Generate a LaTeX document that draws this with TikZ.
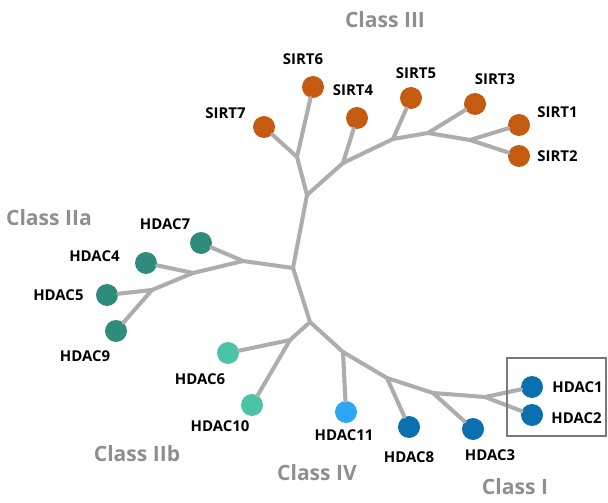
\documentclass[tikz,border=0pt]{standalone}
\usepackage{fontspec}
\setmainfont{Open Sans}
\usepackage{xcolor}
\usetikzlibrary{positioning}
\definecolor{sirtx}{HTML}{C55A11}
\definecolor{twoax}{HTML}{2F8C7C}
\definecolor{twobx}{HTML}{4CC3A7}
\definecolor{fourx}{HTML}{2DA6F5}
\definecolor{onex}{HTML}{0B6FB0}
\definecolor{branchx}{HTML}{ADADAD}
\definecolor{classx}{HTML}{8F8F8F}

\begin{document}
\begin{tikzpicture}[
  x=0.02cm, y=-0.02cm,
  leaf/.style={circle, minimum size=0.44cm, inner sep=0pt},
  lbl/.style={font=\fontsize{8.5}{10}\selectfont\bfseries, inner sep=1pt},
  cls/.style={font=\fontsize{12}{14}\selectfont\bfseries, text=classx},
  br/.style={draw=branchx, line width=2.3pt, line cap=round, line join=round},
]
\useasboundingbox (0,0) rectangle (608,503);

% junctions
\coordinate (r0)   at (293,268);
\coordinate (c3)   at (307,195);
\coordinate (j67)  at (297,157);
\coordinate (j4)   at (343,163);
\coordinate (j5)   at (393,139);
\coordinate (j3)   at (428,133);
\coordinate (j12)  at (470,140);
\coordinate (j7)   at (243,261);
\coordinate (j4a)  at (193,273);
\coordinate (j59)  at (152,290);
\coordinate (jlow) at (310,322);
\coordinate (j6)   at (290,340);
\coordinate (j11)  at (343,352);
\coordinate (j8)   at (387,378);
\coordinate (j3b)  at (433,393);
\coordinate (j12b) at (485,397);

% leaves
\node[leaf, fill=sirtx] (s6) at (313,87)  {};
\node[leaf, fill=sirtx] (s7) at (264,127) {};
\node[leaf, fill=sirtx] (s4) at (357,118) {};
\node[leaf, fill=sirtx] (s5) at (411,98)  {};
\node[leaf, fill=sirtx] (s3) at (475,104) {};
\node[leaf, fill=sirtx] (s1) at (519,125) {};
\node[leaf, fill=sirtx] (s2) at (519,156) {};
\node[leaf, fill=twoax] (h7) at (201,243) {};
\node[leaf, fill=twoax] (h4) at (146,263) {};
\node[leaf, fill=twoax] (h5) at (107,295) {};
\node[leaf, fill=twoax] (h9) at (116,331) {};
\node[leaf, fill=twobx] (h6) at (228,353) {};
\node[leaf, fill=twobx] (h10) at (252,405) {};
\node[leaf, fill=fourx] (h11) at (346,412) {};
\node[leaf, fill=onex] (h8) at (409,427) {};
\node[leaf, fill=onex] (h3) at (473,429) {};
\node[leaf, fill=onex] (h1) at (532,387) {};
\node[leaf, fill=onex] (h2) at (532,415) {};

% branches
\draw[br] (r0) -- (c3) -- (j67) -- (s7);
\draw[br] (j67) -- (s6);
\draw[br] (c3) -- (j4) -- (s4);
\draw[br] (j4) -- (j5) -- (s5);
\draw[br] (j5) -- (j3) -- (s3);
\draw[br] (j3) -- (j12) -- (s1);
\draw[br] (j12) -- (s2);
\draw[br] (r0) -- (j7) -- (h7);
\draw[br] (j7) -- (j4a) -- (h4);
\draw[br] (j4a) -- (j59) -- (h5);
\draw[br] (j59) -- (h9);
\draw[br] (r0) -- (jlow) -- (j6) -- (h6);
\draw[br] (j6) -- (h10);
\draw[br] (jlow) -- (j11) -- (h11);
\draw[br] (j11) -- (j8) -- (h8);
\draw[br] (j8) -- (j3b) -- (h3);
\draw[br] (j3b) -- (j12b) -- (h1);
\draw[br] (j12b) -- (h2);

% names
\node[lbl, above=0.18cm of s6, xshift=-0.2cm]  (s6l) {SIRT6};
\node[lbl, left=0.1cm of s7, yshift=0.28cm]    (s7l) {SIRT7};
\node[lbl, above=0.18cm of s4, xshift=-0.08cm] (s4l) {SIRT4};
\node[lbl, above=0.12cm of s5, xshift=0.1cm]   (s5l) {SIRT5};
\node[lbl, above=0.12cm of s3, xshift=0.4cm]   (s3l) {SIRT3};
\node[lbl, right=0.1cm of s1, yshift=0.26cm]   (s1l) {SIRT1};
\node[lbl, right=0.1cm of s2]                  (s2l) {SIRT2};
\node[lbl, above=0cm of h7, xshift=-0.72cm]    (h7l) {HDAC7};
\node[lbl, left=0.26cm of h4, yshift=0.14cm]   (h4l) {HDAC4};
\node[lbl, left=0.2cm of h5]                   (h5l) {HDAC5};
\node[lbl, below=0.12cm of h9, xshift=-0.62cm] (h9l) {HDAC9};
\node[lbl, below=0.14cm of h6, xshift=-0.56cm] (h6l) {HDAC6};
\node[lbl, below=0.04cm of h10, xshift=-0.64cm] (h10l) {HDAC10};
\node[lbl, below=0.08cm of h11, xshift=-0.04cm] (h11l) {HDAC11};
\node[lbl, below=0.22cm of h8]                 (h8l) {HDAC8};
\node[lbl, below=0.14cm of h3, xshift=0.34cm]  (h3l) {HDAC3};
\node[lbl, right=0.14cm of h1]                 (h1l) {HDAC1};
\node[lbl, right=0.12cm of h2, yshift=-0.06cm] (h2l) {HDAC2};

% class I box
\draw[classx!85!black, line width=1pt] (507,358) rectangle (606,436);

% classes
\node[cls] (c3l)  at (385,20)  {Class III};
\node[cls] (c2al) at (49,218)  {Class IIa};
\node[cls] (c2bl) at (137,454) {Class IIb};
\node[cls] (c4l)  at (317,473) {Class IV};
\node[cls] (c1l)  at (515,487) {Class I};
\end{tikzpicture}
\end{document}
